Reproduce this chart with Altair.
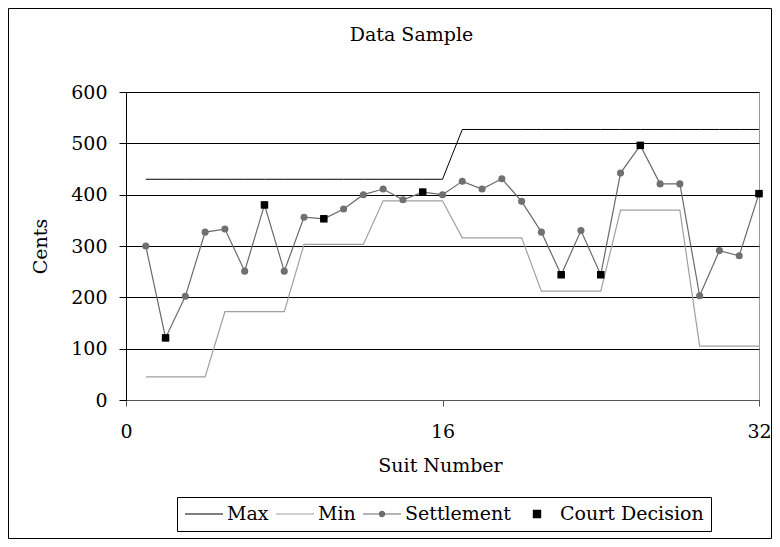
import altair as alt
import pandas as pd

# ---- data ----
suits = list(range(1, 33))
max_cents = [430, 430, 430, 430, 430, 430, 430, 430, 430, 430, 430, 430, 430, 430, 430, 430,
             527, 527, 527, 527, 527, 527, 527, 527, 527, 527, 527, 527, 527, 527, 527, 527]
min_cents = [45, 45, 45, 45, 172, 172, 172, 172, 303, 303, 303, 303, 388, 388, 388, 388,
             316, 316, 316, 316, 212, 212, 212, 212, 370, 370, 370, 370, 105, 105, 105, 105]
settlement_cents = [300, 121, 202, 327, 333, 251, 380, 251, 356, 353, 372, 400, 411, 390, 405, 400,
                    426, 411, 431, 387, 327, 244, 330, 244, 442, 496, 421, 421, 203, 291, 281, 402]
court_suits = [2, 7, 10, 15, 22, 24, 26, 32]
court_cents = [121, 380, 353, 405, 244, 244, 496, 402]

series_names = ["Max", "Min", "Settlement", "Court Decision"]
series_stroke = ["#000000", "#a0a0a0", "#6a6a6a", "#000000"]
series_fill = ["#000000", "#a0a0a0", "#707070", "#000000"]
series_symbols = [
    "M-1,0H1",
    "M-1,0H1",
    "M-1,0H1M0.14,0A0.14,0.14,0,1,1,-0.14,0A0.14,0.14,0,1,1,0.14,0",
    "M-0.19,-0.19H0.19V0.19H-0.19Z",
]
y_ticks = [0, 100, 200, 300, 400, 500, 600]
x_ticks = [0, 16, 32]
chart_title = "Data Sample"

FONT = "DejaVu Serif"
FS = 19

df_max = pd.DataFrame({"suit": suits, "cents": max_cents, "series": "Max"})
df_min = pd.DataFrame({"suit": suits, "cents": min_cents, "series": "Min"})
df_set = pd.DataFrame({"suit": suits, "cents": settlement_cents, "series": "Settlement"})
df_court = pd.DataFrame({"suit": court_suits, "cents": court_cents, "series": "Court Decision"})
df_all = pd.concat([df_max, df_min, df_set, df_court], ignore_index=True)
df_title = pd.DataFrame({"t": [chart_title]})

x_enc = alt.X(
    "suit:Q",
    scale=alt.Scale(domain=[0, 32], nice=False, zero=False),
    axis=alt.Axis(
        values=x_ticks, grid=False, title="Suit Number",
        domainColor="#555555", tickColor="#555555", tickSize=6,
        labelPadding=16, labelFlush=False,
        titleX=314, titleY=71, titleBaseline="alphabetic", titleAlign="center",
    ),
)
y_enc = alt.Y(
    "cents:Q",
    scale=alt.Scale(domain=[0, 600], nice=False),
    axis=alt.Axis(
        values=y_ticks, grid=True, gridColor="#000000", gridWidth=1,
        title="Cents", domainColor="#000000", tickColor="#000000", tickSize=7,
        labelPadding=12,
        titleAngle=-90, titleX=-86, titleY=154, titleAlign="center", titleBaseline="middle",
    ),
)

border = alt.Chart(df_title).mark_rect(fillOpacity=0, stroke="#000000", strokeWidth=1).encode(
    x=alt.value(-117.5), x2=alt.value(645.5), y=alt.value(-83.5), y2=alt.value(446.5)
)
title = alt.Chart(df_title).mark_text(
    font=FONT, fontSize=FS, align="center", baseline="alphabetic", color="#000000"
).encode(text="t:N", x=alt.value(285.5), y=alt.value(-51))

max_line = alt.Chart(df_max).mark_line(color="#000000", strokeWidth=1).encode(x=x_enc, y=y_enc)
min_line = alt.Chart(df_min).mark_line(color="#a0a0a0", strokeWidth=1.2).encode(x=x_enc, y=y_enc)
set_line = alt.Chart(df_set).mark_line(color="#6a6a6a", strokeWidth=1.2).encode(x=x_enc, y=y_enc)
set_pts = alt.Chart(df_set).mark_circle(color="#707070", size=50, opacity=1).encode(x=x_enc, y=y_enc)
court_pts = alt.Chart(df_court).mark_square(color="#000000", size=56, opacity=1).encode(x=x_enc, y=y_enc)

legend = alt.Legend(
    orient="none", legendX=51, legendY=405, direction="horizontal", columns=4,
    title=None, labelFont=FONT, labelFontSize=FS, labelColor="#000000",
    symbolSize=1444, clipHeight=20, labelOffset=3, columnPadding=6,
    padding=7, strokeColor="#000000", fillColor="#ffffff",
    symbolStrokeWidth=1.2, symbolOpacity=1,
    symbolFillColor="#000000", symbolStrokeColor="#000000",
)
legend_layer = alt.Chart(df_all).mark_point(filled=False, opacity=0).encode(
    x=x_enc, y=y_enc,
    color=alt.Color("series:N", scale=alt.Scale(domain=series_names, range=series_stroke), legend=legend),
    fill=alt.Fill("series:N", scale=alt.Scale(domain=series_names, range=series_fill), legend=legend),
    shape=alt.Shape("series:N", scale=alt.Scale(domain=series_names, range=series_symbols), legend=legend),
)

chart = alt.layer(
    border, title, max_line, min_line, set_line, set_pts, court_pts, legend_layer
).properties(
    width=633, height=308,
    autosize=alt.AutoSizeParams(type="none"),
    padding={"left": 118, "top": 84, "right": 13, "bottom": 139},
    background="#ffffff",
).configure_view(
    stroke="#999999", strokeWidth=1
).configure_axis(
    labelFont=FONT, labelFontSize=FS, labelColor="#000000",
    titleFont=FONT, titleFontSize=FS, titleFontWeight="normal", titleColor="#000000",
)

chart.save("out.html", embed_options={"renderer": "svg", "actions": False})
